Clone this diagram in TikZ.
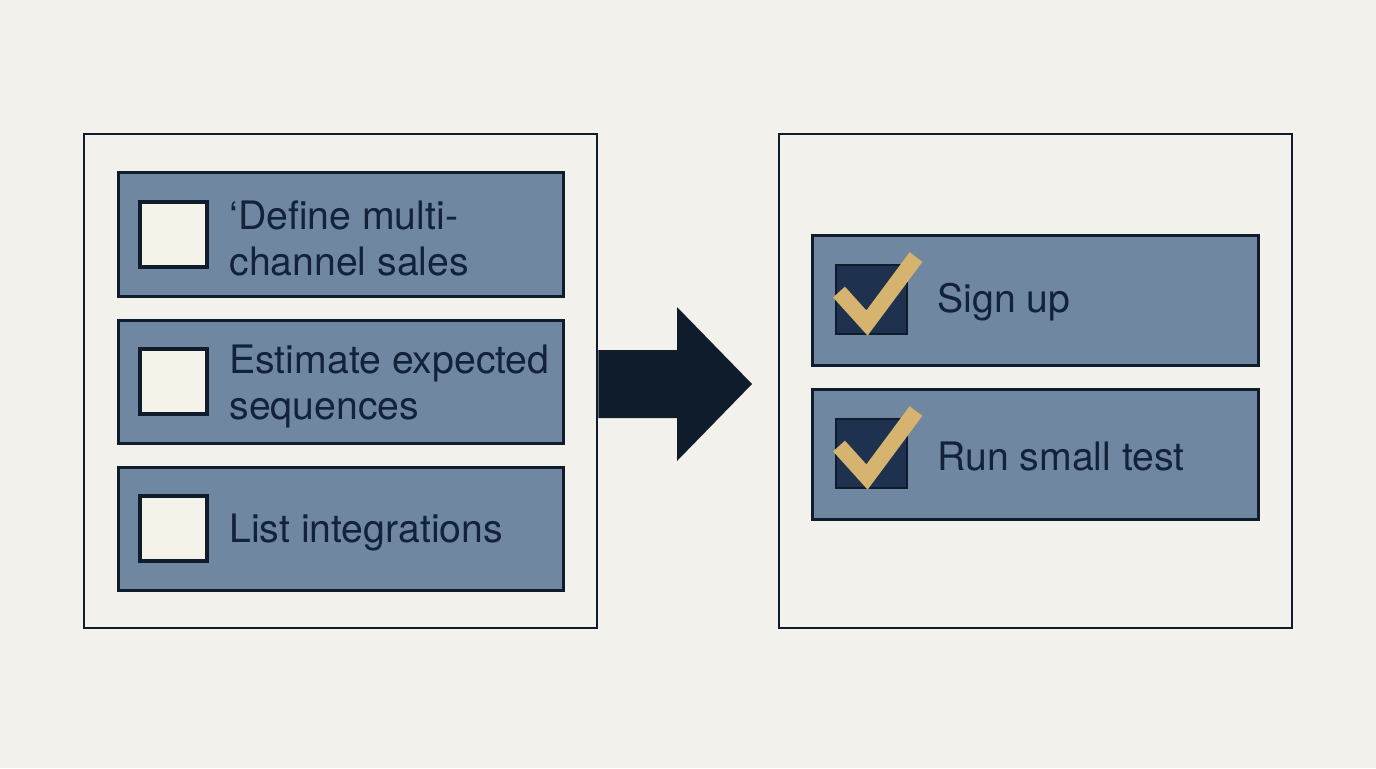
\documentclass[tikz,border=0pt]{standalone}
\usepackage{fontspec}
\setmainfont{TeX Gyre Heros}
\definecolor{bg}{HTML}{F3F1EC}
\definecolor{ink}{HTML}{0F1C2C}
\definecolor{txt}{HTML}{12223A}
\definecolor{slate}{HTML}{6F87A0}
\definecolor{cream}{HTML}{F5F2EA}
\definecolor{navybox}{HTML}{1E3250}
\definecolor{gold}{HTML}{D6B36E}
\tikzset{
  outerbox/.style={draw=ink, line width=1.3pt, fill=none, minimum width=256.5pt, minimum height=247pt, inner sep=0pt},
  itembox/.style={draw=ink, line width=1.5pt, fill=slate, inner sep=0pt},
  emptybox/.style={draw=ink, line width=1.7pt, fill=cream, minimum width=33.5pt, minimum height=32.5pt, inner sep=0pt},
  donebox/.style={draw=ink, line width=1.2pt, fill=navybox, minimum width=35.5pt, minimum height=34.5pt, inner sep=0pt},
  label/.style={anchor=west, text=txt, font=\fontsize{19.6}{23}\selectfont, align=left, inner sep=0pt},
  check/.style={draw=gold, line width=8pt, line cap=butt, line join=miter},
}
\begin{document}
\begin{tikzpicture}[x=0.5pt, y=-0.5pt]
\fill[bg] (0,0) rectangle (1376,768);
\useasboundingbox (0,0) rectangle (1376,768);

% outer panels
\node[outerbox] (L) at (340.5,381) {};
\node[outerbox] (R) at (1035.5,381) {};

% left items
\node[itembox, minimum width=222.5pt, minimum height=62pt] (i1) at (340.5,234) {};
\node[itembox, minimum width=222.5pt, minimum height=61.5pt] (i2) at (340.5,381.5) {};
\node[itembox, minimum width=222.5pt, minimum height=61.5pt] (i3) at (340.5,528.5) {};
\node[emptybox] (b1) at (173.5,234.5) {};
\node[emptybox] (b2) at (173.5,381.5) {};
\node[emptybox] (b3) at (173.5,528.5) {};
\node[label] (t1) at (229,238) {‘Define multi-\\channel sales};
\node[label] (t2) at (229,386) {Estimate expected\\sequences};
\node[label] (t3) at (229,532) {List integrations};

% right items
\node[itembox, minimum width=223pt, minimum height=65pt] (r1) at (1035,300) {};
\node[itembox, minimum width=223pt, minimum height=65pt] (r2) at (1035,454) {};
\node[donebox] (d1) at (871.5,299.5) {};
\node[donebox] (d2) at (871.5,453.5) {};
\draw[check] (839,292) -- (867,323) -- (916,257);
\draw[check] (839,446) -- (867,477) -- (916,411);
\node[label] (s1) at (937,302) {Sign up};
\node[label] (s2) at (937,456) {Run small test};

% big arrow
\fill[ink] (L.east |- 0,350) -- (677,350) -- (677,307) -- (752,384) -- (677,461) -- (677,418) -- (L.east |- 0,418) -- cycle;
\end{tikzpicture}
\end{document}
